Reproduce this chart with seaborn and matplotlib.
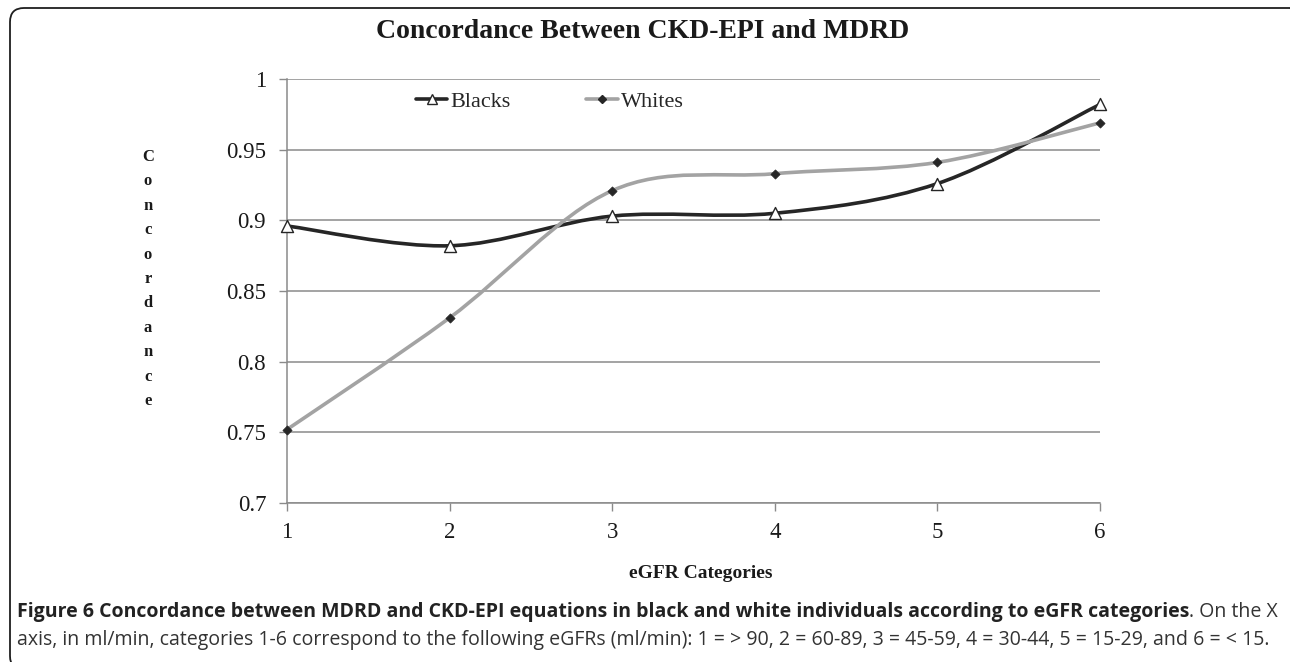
import matplotlib
matplotlib.use("Agg")
import matplotlib.pyplot as plt
import seaborn as sns
from matplotlib.path import Path
from matplotlib.patches import PathPatch, FancyBboxPatch
from matplotlib.lines import Line2D
from matplotlib.transforms import IdentityTransform

# data
categories = [1, 2, 3, 4, 5, 6]
blacks = [0.896, 0.882, 0.903, 0.905, 0.926, 0.982]
whites = [0.752, 0.831, 0.921, 0.933, 0.941, 0.969]
y_ticks = [0.7, 0.75, 0.8, 0.85, 0.9, 0.95, 1.0]
y_ticklabels = ["0.7", "0.75", "0.8", "0.85", "0.9", "0.95", "1"]

title = "Concordance Between CKD-EPI and MDRD"
x_title = "eGFR Categories"
y_title = "Concordance"
caption_bold = ("Figure 6 Concordance between MDRD and CKD-EPI equations in black "
                "and white individuals according to eGFR categories")
caption_rest = ". On the X"
caption_line2 = ("axis, in ml/min, categories 1-6 correspond to the following eGFRs (ml/min): "
                 "1 = > 90, 2 = 60-89, 3 = 45-59, 4 = 30-44, 5 = 15-29, and 6 = < 15.")

BLACK_C = "#262626"
WHITE_C = "#a3a3a3"
GRID_C = "#8a8a8a"


def smooth_path(xs, ys):
    # Excel-style smoothed line: cubic bezier segments through each point
    pts = list(zip(xs, ys))
    n = len(pts)
    verts = [pts[0]]
    codes = [Path.MOVETO]
    for i in range(n - 1):
        p0 = pts[max(i - 1, 0)]
        p1 = pts[i]
        p2 = pts[i + 1]
        p3 = pts[min(i + 2, n - 1)]
        c1 = (p1[0] + (p2[0] - p0[0]) / 6, p1[1] + (p2[1] - p0[1]) / 6)
        c2 = (p2[0] - (p3[0] - p1[0]) / 6, p2[1] - (p3[1] - p1[1]) / 6)
        verts += [c1, c2, p2]
        codes += [Path.CURVE4] * 3
    return Path(verts, codes)


sns.set_theme(style="white")
plt.rcParams['font.family'] = ['Liberation Serif', 'DejaVu Serif']

fig = plt.figure(figsize=(12.9, 6.62), dpi=100)
ax = fig.add_axes([287 / 1290, 1 - 503 / 662, (1100 - 287) / 1290, (503 - 79) / 662])

# grid
for v in y_ticks:
    ax.axhline(v, color=GRID_C, lw=1.1, zorder=1)

# Blacks
ax.add_patch(PathPatch(smooth_path(categories, blacks), facecolor='none',
                       edgecolor=BLACK_C, lw=2.6, zorder=3, clip_on=False))
sns.scatterplot(x=categories, y=blacks, marker='^', s=75, color='white',
                edgecolor=BLACK_C, linewidth=1.0, zorder=4, ax=ax, clip_on=False)
# Whites
ax.add_patch(PathPatch(smooth_path(categories, whites), facecolor='none',
                       edgecolor=WHITE_C, lw=2.6, zorder=5, clip_on=False))
sns.scatterplot(x=categories, y=whites, marker='D', s=22, color=BLACK_C,
                edgecolor=BLACK_C, linewidth=0.5, zorder=6, ax=ax, clip_on=False)

ax.set_xlim(1, 6)
ax.set_ylim(0.7, 1.0)
ax.set_xticks(categories)
ax.set_xticklabels([str(c) for c in categories])
ax.set_yticks(y_ticks)
ax.set_yticklabels(y_ticklabels)
ax.tick_params(axis='y', direction='out', length=6, width=1, color=GRID_C,
               labelsize=16.5, pad=9, labelcolor='#1a1a1a', left=True)
ax.tick_params(axis='x', direction='out', length=6, width=1, color=GRID_C,
               labelsize=16.5, pad=8, labelcolor='#1a1a1a', bottom=True)
for side in ['top', 'right']:
    ax.spines[side].set_visible(False)
ax.spines['left'].set_color(GRID_C)
ax.spines['bottom'].set_color(GRID_C)
ax.spines['left'].set_linewidth(1.1)
ax.spines['bottom'].set_linewidth(1.1)
ax.set_xlabel("")
ax.set_ylabel("")

handles = [
    Line2D([], [], color=BLACK_C, lw=2.6, marker='^', markersize=7,
           markerfacecolor='white', markeredgecolor=BLACK_C),
    Line2D([], [], color=WHITE_C, lw=2.6, marker='D', markersize=4,
           markerfacecolor=BLACK_C, markeredgecolor=BLACK_C),
]
ax.legend(handles, ["Blacks", "Whites"], ncol=2, frameon=False, fontsize=16,
          loc='center', bbox_to_anchor=((550 - 287) / (1100 - 287), (503 - 102) / (503 - 79)),
          handlelength=1.4, handletextpad=0.15, columnspacing=3.4)

fig.text(0.4985, 1 - 32 / 662, title, ha='center', va='center',
         fontsize=20, fontweight='bold', color='#1a1a1a')
fig.text(701 / 1290, 1 - 573 / 662, x_title, ha='center', va='center',
         fontsize=14, fontweight='bold', color='#1a1a1a')
fig.text(148 / 1290, 1 - 279 / 662, "\n".join(y_title), ha='center', va='center',
         fontsize=12, fontweight='bold', color='#1a1a1a', linespacing=1.7)

# caption
cap_font = ['Open Sans', 'DejaVu Sans']
t1 = fig.text(17 / 1290, 1 - 612 / 662, caption_bold, ha='left', va='center',
              fontsize=14.05, fontweight='bold', family=cap_font, color='#222222')
fig.canvas.draw()
bb = t1.get_window_extent()
fig.text(bb.x1 / 1290, 1 - 612 / 662, caption_rest, ha='left', va='center',
         fontsize=14.05, family=cap_font, color='#333333')
fig.text(17 / 1290, 1 - 640 / 662, caption_line2, ha='left', va='center',
         fontsize=14.05, family=cap_font, color='#333333')

# rounded frame around the figure panel (right and bottom edges run off the page)
frame = FancyBboxPatch((10, -8), 1294, 662, boxstyle="round,pad=0,rounding_size=14",
                       transform=IdentityTransform(), facecolor='none',
                       edgecolor='#1f1f1f', lw=1.3, clip_on=False)
fig.patches.append(frame)

fig.savefig("out.png", dpi=100)
